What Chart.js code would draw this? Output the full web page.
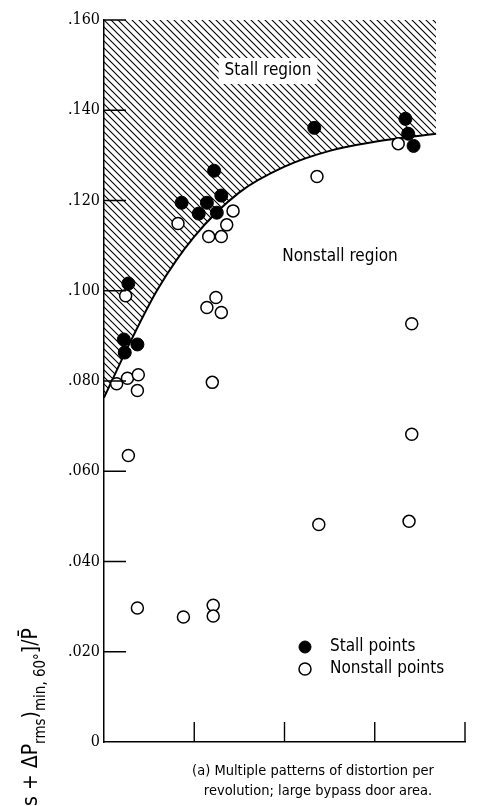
<!DOCTYPE html>
<html>
<head>
<meta charset="utf-8">
<script src="https://cdn.jsdelivr.net/npm/chart.js@4.4.1/dist/chart.umd.min.js"></script>
<style>
  html, body { margin: 0; padding: 0; background: #fff; }
  canvas { display: block; }
</style>
</head>
<body>
<canvas id="stallChart" width="479" height="806"></canvas>
<script>
// values
const stallX = [0.27, 0.22, 0.37, 0.23, 1.22, 0.86, 1.14, 1.30, 1.05, 1.25, 2.33, 3.34, 3.37, 3.43];
const stallY = [0.1016, 0.0892, 0.0881, 0.0863, 0.1266, 0.1195, 0.1195, 0.1211, 0.1171, 0.1173, 0.1361, 0.1381, 0.1348, 0.1321];

const nonstallX = [0.24, 0.14, 0.26, 0.38, 0.37, 0.27, 0.37, 0.88, 1.21, 1.21, 0.82, 1.43, 1.36, 1.16, 1.30,
                   1.24, 1.14, 1.30, 1.20, 2.36, 3.26, 3.41, 3.41, 2.38, 3.38];
const nonstallY = [0.0989, 0.0794, 0.0806, 0.0814, 0.0779, 0.0635, 0.0297, 0.0277, 0.0303, 0.0279, 0.1149, 0.1177, 0.1146, 0.1120, 0.1120,
                   0.0985, 0.0963, 0.0952, 0.0797, 0.1253, 0.1326, 0.0927, 0.0682, 0.0482, 0.0489];

// stall boundary
const boundaryX = [0, 0.3, 0.6, 1.0, 1.5, 2.0, 2.5, 3.0, 3.68];
const boundaryY = [0.0763, 0.089, 0.1005, 0.112, 0.1218, 0.1275, 0.131, 0.133, 0.1348];

const yTickValues = [0, 0.02, 0.04, 0.06, 0.08, 0.10, 0.12, 0.14, 0.16];
const yTickLabels = ['0', '.020', '.040', '.060', '.080', '.100', '.120', '.140', '.160'];
const xTickValues = [1, 2, 3, 4];

const captionLines = ['(a) Multiple patterns of distortion per', 'revolution; large bypass door area.'];

const SANS = '"DejaVu Sans Condensed", "DejaVu Sans", sans-serif';
const SERIF = '"DejaVu Serif Condensed", "DejaVu Serif", serif';

function toPoints(xs, ys) {
    return xs.map((x, i) => ({ x: x, y: ys[i] }));
}

const canvas = document.getElementById('stallChart');
const ctx = canvas.getContext('2d');

function hatchPattern() {
    const c = document.createElement('canvas');
    c.width = 7;
    c.height = 7;
    const g = c.getContext('2d');
    g.strokeStyle = '#000';
    g.lineWidth = 1.1;
    g.beginPath();
    g.moveTo(-1, -1); g.lineTo(8, 8);
    g.moveTo(-1, 6); g.lineTo(1, 8);
    g.moveTo(6, -1); g.lineTo(8, 1);
    g.stroke();
    return ctx.createPattern(c, 'repeat');
}

// inward tick marks, region labels, legend, caption, y title
const figureText = {
    id: 'figureText',
    afterDatasetsDraw(chart) {
        const c = chart.ctx;
        const xs = chart.scales.x, ys = chart.scales.y;
        c.save();
        c.strokeStyle = '#000';
        c.lineWidth = 1.4;
        c.beginPath();
        yTickValues.forEach(v => {
            if (v === 0) return;
            const py = ys.getPixelForValue(v);
            c.moveTo(xs.left, py);
            c.lineTo(xs.left + 22, py);
        });
        xTickValues.forEach(v => {
            const px = xs.getPixelForValue(v);
            c.moveTo(px, ys.bottom);
            c.lineTo(px, ys.bottom - 20);
        });
        c.stroke();

        // Stall region label on a white patch
        c.font = '17px ' + SANS;
        c.textBaseline = 'middle';
        c.textAlign = 'center';
        const sx = 268, sy = 71;
        const w = c.measureText('Stall region').width;
        c.fillStyle = '#fff';
        c.fillRect(sx - w / 2 - 6, sy - 13, w + 12, 26);
        c.fillStyle = '#000';
        c.fillText('Stall region', sx, sy);
        c.fillText('Nonstall region', 340, 257);

        // legend
        const ds = chart.data.datasets;
        [[ds[0], 647, 'Stall points'], [ds[1], 669, 'Nonstall points']].forEach(item => {
            c.beginPath();
            c.arc(305, item[1], 6, 0, Math.PI * 2);
            c.fillStyle = item[0].backgroundColor;
            c.fill();
            c.lineWidth = item[0].borderWidth;
            c.strokeStyle = '#000';
            c.stroke();
            c.fillStyle = '#000';
            c.textAlign = 'left';
            c.fillText(item[2], 330, item[1]);
        });

        // caption
        c.font = '14.5px ' + SANS;
        c.textAlign = 'center';
        c.fillText(captionLines[0], 313, 771);
        c.fillText(captionLines[1], 318, 791);

        // rotated y title, cut off by the bottom edge as in the figure
        const big = '21px ' + SANS, small = '15px ' + SANS;
        const parts = [['s + \u0394P', big, 0], ['rms', small, 8], [')', big, 0], ['min, 60\u00b0', small, 8], [']/P\u0304', big, 0]];
        let total = 0;
        parts.forEach(p => { c.font = p[1]; total += c.measureText(p[0]).width; });
        c.translate(37, 628 + total);
        c.rotate(-Math.PI / 2);
        c.textAlign = 'left';
        c.textBaseline = 'alphabetic';
        let x = 0;
        parts.forEach(p => {
            c.font = p[1];
            c.fillText(p[0], x, p[2]);
            x += c.measureText(p[0]).width;
        });
        c.restore();
    }
};

new Chart(ctx, {
    type: 'scatter',
    data: {
        datasets: [
            {
                label: 'Stall points',
                data: toPoints(stallX, stallY),
                backgroundColor: '#000',
                borderColor: '#000',
                borderWidth: 1,
                pointRadius: 6.5,
                order: 1
            },
            {
                label: 'Nonstall points',
                data: toPoints(nonstallX, nonstallY),
                backgroundColor: '#fff',
                borderColor: '#000',
                borderWidth: 1.5,
                pointRadius: 6,
                order: 2
            },
            {
                type: 'line',
                label: 'Stall boundary',
                data: toPoints(boundaryX, boundaryY),
                borderColor: '#000',
                borderWidth: 2,
                backgroundColor: hatchPattern(),
                fill: 'end',
                pointRadius: 0,
                cubicInterpolationMode: 'monotone',
                order: 3
            }
        ]
    },
    options: {
        responsive: false,
        animation: false,
        layout: { padding: { top: 20, right: 14, left: 0, bottom: 0 } },
        plugins: {
            legend: { display: false },
            tooltip: { enabled: false }
        },
        scales: {
            x: {
                type: 'linear',
                min: 0,
                max: 4,
                ticks: { display: false },
                grid: { display: false, drawTicks: false },
                border: { display: true, color: '#000', width: 1.5 },
                afterFit: (scale) => { scale.height = 64; }
            },
            y: {
                min: 0,
                max: 0.16,
                afterBuildTicks: (scale) => { scale.ticks = yTickValues.map(v => ({ value: v })); },
                ticks: {
                    color: '#000',
                    padding: 4,
                    font: { family: SERIF, size: 16 },
                    callback: (value, i) => yTickLabels[i]
                },
                grid: { display: false, drawTicks: false },
                border: { display: true, color: '#000', width: 1.5 },
                afterFit: (scale) => { scale.width = 104; }
            }
        }
    },
    plugins: [figureText]
});
</script>
</body>
</html>
